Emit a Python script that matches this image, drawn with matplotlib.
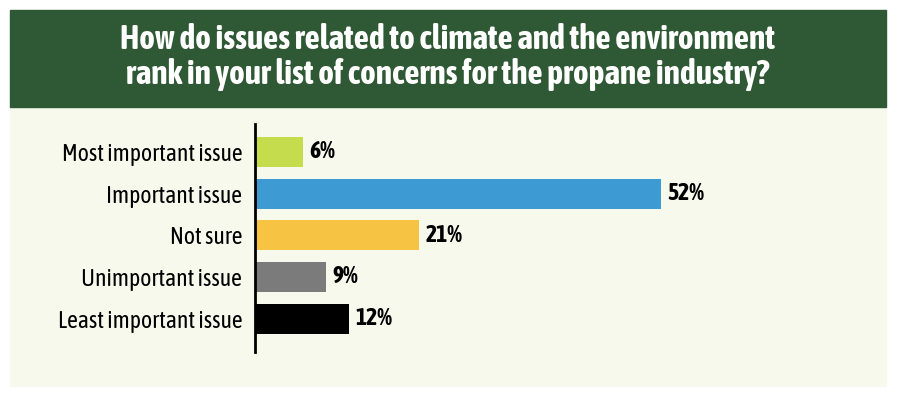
import matplotlib.pyplot as plt
from matplotlib.patches import Rectangle

title = ("How do issues related to climate and the environment\n"
         "rank in your list of concerns for the propane industry?")
categories = ["Most important issue", "Important issue", "Not sure",
              "Unimportant issue", "Least important issue"]
values = [6, 52, 21, 9, 12]
colors = ["#c5dc4c", "#3d9ad2", "#f6c342", "#7b7b7b", "#000000"]

plt.rcParams["font.family"] = ["Asap Condensed", "Barlow Condensed", "DejaVu Sans"]

W, H = 900, 397
fig = plt.figure(figsize=(W / 100, H / 100), dpi=100)
fig.patch.set_facecolor("white")

# panel backgrounds (behind the axes)
fig.patches.append(Rectangle((10 / W, (H - 386) / H), 876 / W, 279 / H,
                             transform=fig.transFigure, color="#f7f9ed", zorder=-2))
fig.patches.append(Rectangle((10 / W, (H - 107) / H), 876 / W, 97 / H,
                             transform=fig.transFigure, color="#2f5934", zorder=-2))
fig.text(448 / W, (H - 57) / H, title, ha="center", va="center", color="white",
         fontsize=24, fontweight="bold", linespacing=1.1)

ax = fig.add_axes([256 / W, (H - 352) / H, 467 / W, 228 / H])
ax.set_facecolor("none")
y = list(range(len(categories)))
ax.barh(y, values, height=0.72, color=colors)
ax.set_xlim(0, 60)
ax.set_ylim(4.8, -0.67)

for yi, v in zip(y, values):
    ax.text(v + 0.8, yi, f"{v}%", va="center", ha="left", fontsize=17,
            fontweight="bold", color="black")

ax.tick_params(axis="y", length=0, pad=9, labelsize=17)
ax.set_yticks(y)
ax.set_yticklabels(categories)
for lab in ax.get_yticklabels():
    lab.set_fontsize(17)
    lab.set_fontweight("semibold")
ax.set_xticks([])
for s in ["top", "right", "bottom"]:
    ax.spines[s].set_visible(False)
ax.spines["left"].set_linewidth(2)
ax.spines["left"].set_position(("data", -0.15))

fig.savefig("out.png", dpi=100)
